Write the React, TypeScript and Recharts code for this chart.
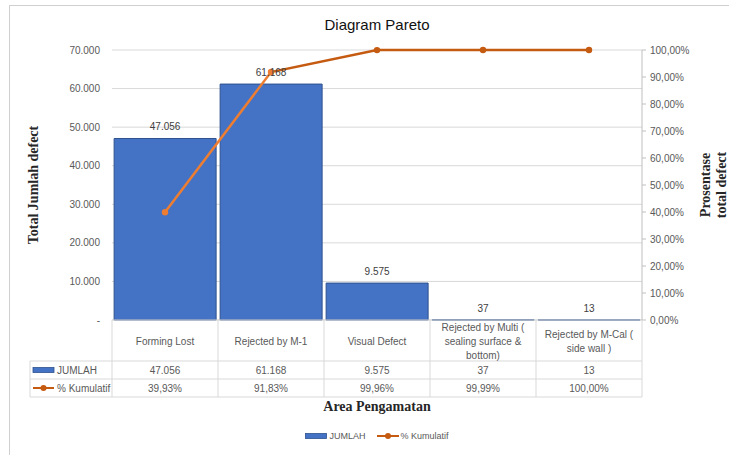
import React from 'react'
import { ComposedChart, Bar, Line, XAxis, YAxis, CartesianGrid, LabelList } from 'recharts'

const categories = [
  'Forming Lost',
  'Rejected by M-1',
  'Visual Defect',
  'Rejected by Multi ( sealing surface & bottom)',
  'Rejected by M-Cal ( side wall )',
]
const jumlah = [47056, 61168, 9575, 37, 13]
const kumulatif = [39.93, 91.83, 99.96, 99.99, 100]
const leftTicks = [0, 10000, 20000, 30000, 40000, 50000, 60000, 70000]
const rightTicks = [0, 10, 20, 30, 40, 50, 60, 70, 80, 90, 100]

const data = categories.map((name, i) => ({ name, jumlah: jumlah[i], kumulatif: kumulatif[i] }))

const FONT = "'Liberation Sans Narrow', 'Arial Narrow', sans-serif"
const SERIF = "'Liberation Serif', 'Times New Roman', serif"
const BLUE = '#4472C4'
const BLUE_DARK = '#2F528F'
const ORANGE = '#ED7D31'
const ORANGE_DARK = '#C55A11'
const GRID = '#D9D9D9'
const TEXT = '#595959'

// plot box, used for the data table under the axis
const PLOT_LEFT = 112
const PLOT_RIGHT = 642
const BAND = (PLOT_RIGHT - PLOT_LEFT) / categories.length
const TABLE_LEFT = 30
const ROW_HEAD = 41
const ROW = 18

const fmtNum = (n: number) => (n === 0 ? '-' : String(n).replace(/\B(?=(\d{3})+(?!\d))/g, '.'))
const fmtPct = (v: number) => v.toFixed(2).replace('.', ',') + '%'

function wrap(s: string, max = 19) {
  const words = s.split(' ')
  const lines: string[] = []
  let cur = ''
  for (const w of words) {
    const next = cur ? cur + ' ' + w : w
    if (next.length > max && cur) {
      lines.push(cur)
      cur = w
    } else cur = next
  }
  if (cur) lines.push(cur)
  return lines
}

function TableColumn(props: any) {
  const { x, y, payload } = props
  const i = payload.index
  const left = x - BAND / 2
  const right = x + BAND / 2
  const lines = wrap(String(payload.value))
  const headMid = y + ROW_HEAD / 2 + 1
  const r1 = y + ROW_HEAD
  const r2 = r1 + ROW
  const r3 = r2 + ROW
  return (
    <g>
      <line x1={right} x2={right} y1={y} y2={r3} stroke={GRID} />
      {i === 0 && (
        <g>
          <line x1={left} x2={left} y1={y} y2={r3} stroke={GRID} />
          <line x1={TABLE_LEFT} x2={TABLE_LEFT} y1={r1} y2={r3} stroke={GRID} />
          <line x1={TABLE_LEFT} x2={PLOT_RIGHT} y1={r1} y2={r1} stroke={GRID} />
          <line x1={TABLE_LEFT} x2={PLOT_RIGHT} y1={r2} y2={r2} stroke={GRID} />
          <line x1={TABLE_LEFT} x2={PLOT_RIGHT} y1={r3} y2={r3} stroke={GRID} />
          <rect x={TABLE_LEFT + 3} y={r1 + ROW / 2 - 2.5} width={21} height={5} fill={BLUE} stroke={BLUE_DARK} strokeWidth={0.8} />
          <text x={TABLE_LEFT + 27} y={r1 + ROW / 2 + 3.5} fontSize={10} fill={TEXT} fontFamily={FONT}>JUMLAH</text>
          <line x1={TABLE_LEFT + 3} x2={TABLE_LEFT + 24} y1={r2 + ROW / 2} y2={r2 + ROW / 2} stroke={ORANGE_DARK} strokeWidth={2} />
          <circle cx={TABLE_LEFT + 13.5} cy={r2 + ROW / 2} r={3} fill={ORANGE_DARK} />
          <text x={TABLE_LEFT + 27} y={r2 + ROW / 2 + 3.5} fontSize={10} fill={TEXT} fontFamily={FONT}>% Kumulatif</text>
        </g>
      )}
      <text textAnchor="middle" fontSize={10} fill={TEXT} fontFamily={FONT}>
        {lines.map((l, k) => (
          <tspan key={k} x={x} y={headMid + 3.5 + (k - (lines.length - 1) / 2) * 14}>{l}</tspan>
        ))}
      </text>
      <text x={x} y={r1 + ROW / 2 + 3.5} textAnchor="middle" fontSize={10} fill={TEXT} fontFamily={FONT}>{fmtNum(jumlah[i])}</text>
      <text x={x} y={r2 + ROW / 2 + 3.5} textAnchor="middle" fontSize={10} fill={TEXT} fontFamily={FONT}>{fmtPct(kumulatif[i])}</text>
    </g>
  )
}

function KumDot(props: any) {
  const { cx, cy, index } = props
  return <circle key={`d${index}`} cx={cx} cy={cy} r={3.2} fill={index < 2 ? ORANGE : ORANGE_DARK} />
}

export default function App() {
  return (
    <div style={{ position: 'absolute', left: 0, top: 0, width: 729, height: 455, background: '#fff', overflow: 'hidden' }}>
      <div style={{ position: 'absolute', left: 9, top: 5, width: 760, height: 470, border: '1px solid #D0D0D0' }} />
      <div style={{ position: 'absolute', left: 0, width: 754, top: 16, textAlign: 'center', fontFamily: FONT, fontSize: 15, color: '#111' }}>
        Diagram Pareto
      </div>
      <ComposedChart width={729} height={455} data={data} margin={{ top: 50, right: 27, bottom: 55, left: 52 }} barCategoryGap="2%">
        <defs>
          <linearGradient id="kumGrad" gradientUnits="userSpaceOnUse" x1={0} x2={729} y1={0} y2={0}>
            <stop offset={271 / 729} stopColor={ORANGE} />
            <stop offset={271 / 729} stopColor={ORANGE_DARK} />
          </linearGradient>
        </defs>
        <CartesianGrid yAxisId="left" vertical={false} stroke={GRID} />
        <XAxis
          dataKey="name"
          height={80}
          tickSize={0}
          tickMargin={0}
          tickLine={false}
          axisLine={{ stroke: GRID }}
          interval={0}
          tick={(p: any) => <TableColumn {...p} />}
        />
        <YAxis
          yAxisId="left"
          width={60}
          domain={[0, 70000]}
          ticks={leftTicks}
          tickFormatter={fmtNum}
          axisLine={false}
          tickLine={false}
          tickMargin={6}
          tick={{ fontSize: 10, fill: TEXT, fontFamily: FONT }}
        />
        <YAxis
          yAxisId="right"
          orientation="right"
          width={60}
          domain={[0, 100]}
          ticks={rightTicks}
          tickFormatter={fmtPct}
          axisLine={{ stroke: '#BFBFBF' }}
          tickLine={{ stroke: '#BFBFBF' }}
          tickSize={4}
          tickMargin={4}
          tick={{ fontSize: 10, fill: TEXT, fontFamily: FONT }}
        />
        <Bar yAxisId="left" dataKey="jumlah" fill={BLUE} stroke={BLUE_DARK} strokeWidth={1} isAnimationActive={false}>
          <LabelList dataKey="jumlah" position="top" offset={8} formatter={(v: any) => fmtNum(Number(v))} style={{ fontSize: 10, fill: '#404040', fontFamily: FONT }} />
        </Bar>
        <Line
          yAxisId="right"
          dataKey="kumulatif"
          stroke="url(#kumGrad)"
          strokeWidth={2.5}
          dot={(p: any) => <KumDot {...p} />}
          activeDot={false}
          isAnimationActive={false}
        />
      </ComposedChart>
      <div style={{ position: 'absolute', left: 34, top: 185, width: 0, height: 0 }}>
        <div style={{ position: 'absolute', transform: 'translate(-50%, -50%) rotate(-90deg)', whiteSpace: 'nowrap', fontFamily: SERIF, fontWeight: 'bold', fontSize: 14, color: '#262626' }}>
          Total Jumlah defect
        </div>
      </div>
      <div style={{ position: 'absolute', left: 714, top: 185, width: 0, height: 0 }}>
        <div style={{ position: 'absolute', transform: 'translate(-50%, -50%) rotate(-90deg)', whiteSpace: 'nowrap', textAlign: 'center', lineHeight: '16px', fontFamily: SERIF, fontWeight: 'bold', fontSize: 14, color: '#262626' }}>
          Prosentase<br />total defect
        </div>
      </div>
      <div style={{ position: 'absolute', left: 0, width: 754, top: 399, textAlign: 'center', fontFamily: SERIF, fontWeight: 'bold', fontSize: 14, color: '#262626' }}>
        Area Pengamatan
      </div>
      <div style={{ position: 'absolute', left: 0, width: 754, top: 431, display: 'flex', justifyContent: 'center', alignItems: 'center', fontFamily: FONT, fontSize: 9, color: TEXT }}>
        <svg width={22} height={8}><rect x={0.5} y={1.5} width={21} height={5} fill={BLUE} stroke={BLUE_DARK} strokeWidth={0.8} /></svg>
        <span style={{ marginLeft: 2, marginRight: 12 }}>JUMLAH</span>
        <svg width={22} height={8}><line x1={0} x2={22} y1={4} y2={4} stroke={ORANGE_DARK} strokeWidth={2} /><circle cx={11} cy={4} r={3} fill={ORANGE_DARK} /></svg>
        <span style={{ marginLeft: 1 }}>% Kumulatif</span>
      </div>
    </div>
  )
}
